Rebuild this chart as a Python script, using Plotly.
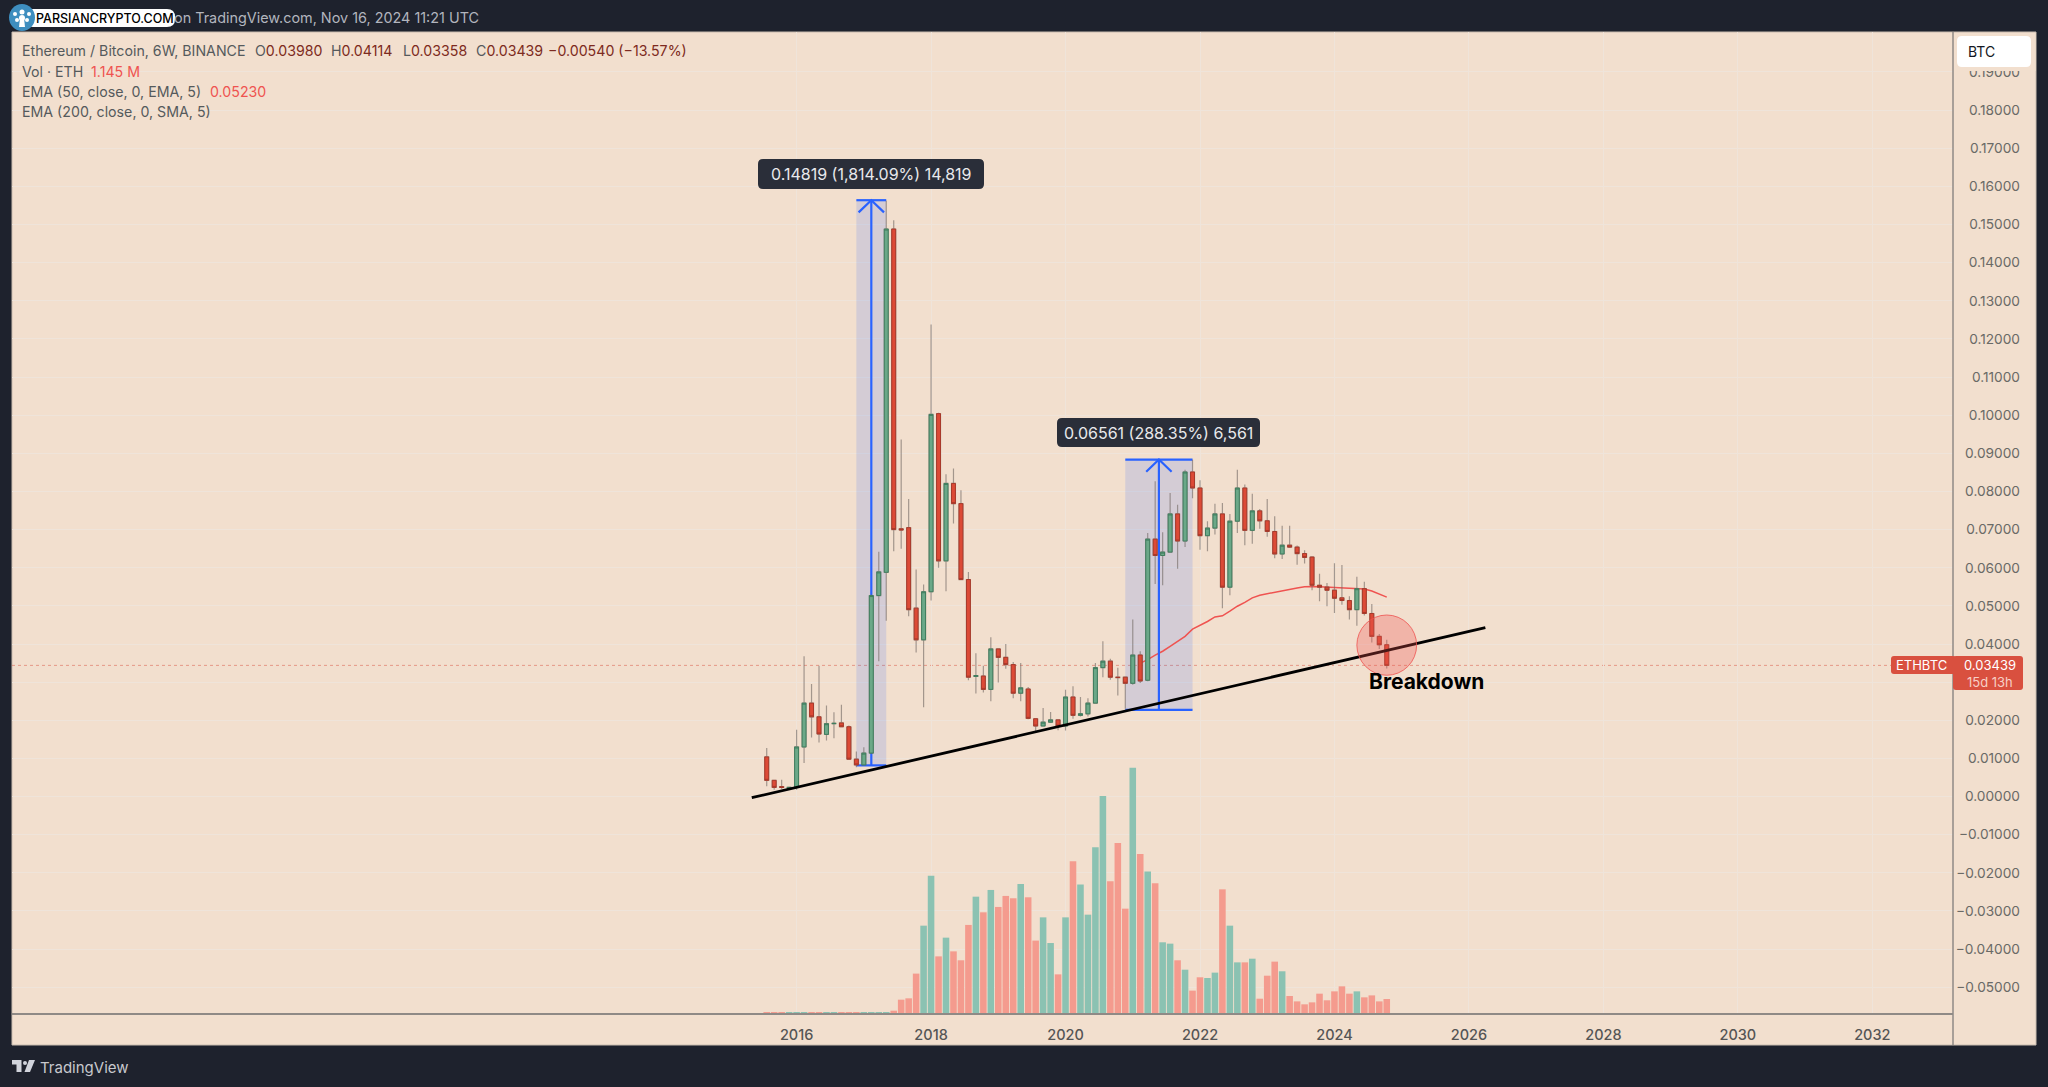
import plotly.graph_objects as go

# ETH/BTC 6W bars
bars = list(range(84))
opens = [.0104, .00425, .0026, .0022, .0024, .0130, .0245, .0209, .0163, .0191,
         .0193, .0183, .0098, .0083, .0114, .0527, .0588, .1488, .0702, .0705,
         .0494, .0411, .0537, .1004, .0618, .0821, .0768, .0569, .0315, .0316,
         .0281, .0387, .0365, .0346, .0271, .0282, .0204, .0185, .0195, .0201,
         .0185, .0261, .0213, .0217, .0245, .0338, .0355, .0313, .0313, .0297,
         .0371, .0305, .0675, .0632, .0641, .0741, .0670, .0851, .0809, .0684,
         .0704, .0741, .0549, .0722, .0809, .0698, .0749, .0723, .0695, .0636,
         .0659, .0654, .0637, .0628, .0554, .0549, .0541, .0521, .0514, .0490,
         .0545, .0480, .0420, .03980]
highs = [.0127, .0044, .0044, .0025, .0175, .0368, .0295, .0343, .0239, .0221,
         .0241, .0186, .0118, .0129, .0530, .0642, .1562, .1511, .0936, .0780,
         .0595, .0556, .1238, .1006, .0845, .0860, .0803, .0589, .0376, .0343,
         .0418, .0388, .0400, .0353, .0350, .0287, .0205, .0232, .0222, .0202,
         .0280, .0289, .0261, .0258, .0350, .0407, .0361, .0338, .0315, .0464,
         .0381, .0691, .0827, .0693, .0796, .0765, .0857, .0883, .0829, .0722,
         .0768, .0770, .0741, .0857, .0818, .0794, .0754, .0780, .0735, .0710,
         .0710, .0658, .0646, .0630, .0584, .0560, .0612, .0607, .0525, .0576,
         .0563, .0505, .0426, .04114]
lows = [.0027, .0018, .0020, .0021, .0018, .0088, .0155, .0142, .0147, .0153,
        .0182, .0097, .0077, .0082, .0112, .0355, .0461, .0643, .0650, .0473,
        .0378, .0234, .0514, .0600, .0538, .0716, .0569, .0305, .0270, .0273,
        .0250, .0299, .0335, .0258, .0250, .0203, .0167, .0184, .0193, .0174,
        .0173, .0204, .0210, .0210, .0245, .0313, .0306, .0265, .0230, .0293,
        .0298, .0302, .0557, .0554, .0639, .0597, .0654, .0782, .0647, .0643,
        .0687, .0494, .0528, .0691, .0659, .0663, .0702, .0681, .0625, .0623,
        .0652, .0608, .0611, .0541, .0512, .0499, .0481, .0503, .0464, .0448,
        .0475, .0404, .0387, .03358]
closes = [.00425, .0024, .0024, .0024, .0130, .0245, .0209, .0164, .0191, .0192,
          .0183, .0098, .0083, .0114, .0527, .0589, .1488, .0700, .0699, .0490,
          .0411, .0537, .1002, .0618, .0821, .0768, .0569, .0313, .0317, .0281,
          .0387, .0365, .0346, .0271, .0285, .0205, .0185, .0195, .0201, .0185,
          .0261, .0213, .0217, .0245, .0338, .0355, .0313, .0312, .0297, .0371,
          .0303, .0675, .0632, .0641, .0741, .0670, .0851, .0809, .0684, .0704,
          .0741, .0549, .0722, .0809, .0698, .0749, .0723, .0695, .0636, .0659,
          .0654, .0637, .0627, .0554, .0549, .0541, .0520, .0514, .0490, .0545,
          .0480, .0420, .0398, .03439]
volumes = [.06, .06, .06, .06, .06, .06, .06, .06, .06, .06,
           .06, .06, .06, .06, .06, .06, .06, .19, 1.09, 1.2,
           3.22, 7.14, 11.23, 4.63, 6.16, 5.04, 4.31, 7.2, 9.51, 8.23,
           10.06, 8.67, 9.57, 9.38, 10.55, 9.46, 5.92, 7.82, 5.72, 3.16,
           7.82, 12.4, 10.5, 8.04, 13.55, 17.75, 10.77, 13.9, 8.53, 20.04,
           13.0, 11.56, 10.6, 5.78, 5.67, 4.31, 3.54, 1.83, 2.92, 2.86,
           3.3, 10.11, 7.14, 4.14, 4.14, 4.44, 1.17, 3.05, 4.2, 3.41,
           1.39, .95, .71, .87, 1.58, 1.04, 1.77, 2.18, 1.58, 1.77,
           1.28, 1.44, .95, 1.145]

ema_bars = list(range(50, 84))
ema_values = [.0350, .0359, .0371, .0381, .0394, .0407, .0420, .0439, .0448, .0459,
              .0471, .0474, .0486, .0499, .0509, .0521, .0528, .0532, .0535, .0540,
              .0543, .0547, .0550, .0551, .0550, .0549, .0549, .0547, .0546, .0545,
              .0544, .0539, .0532, .0523]

year_bars = [4, 22, 40, 58, 76, 94, 112, 130, 148]
year_labels = ['2016', '2018', '2020', '2022', '2024', '2026', '2028', '2030', '2032']
price_ticks = [round(-0.05 + i * 0.01, 2) for i in range(25)]

trend_bars = [-2.0, 96.2]
trend_prices = [-.0003, .0443]

BG = '#f2dfce'
DARK = '#1e222d'
GRID = '#efe4da'
AXIS = '#8f8a86'
BLUE = '#2962ff'
TAG = '#d9503f'
GREY = '#555a5c'
FONT = 'Inter'

# R is the price axis line, PR the right edge of the (right aligned) price labels
L, R, PR, T, B = 12, 1953, 2020, 32, 1013


# pixel to paper coords, for the page furniture only
def px(x):
    return (x - L) / (PR - L)


def py(y):
    return (B - y) / (B - T)


def round_rect(x0, y0, x1, y1, r):
    a, b, c, d = px(x0), px(x1), py(y0), py(y1)
    rx, ry = r / (PR - L), r / (B - T)
    return (f'M{a + rx},{c} L{b - rx},{c} Q{b},{c} {b},{c - ry} L{b},{d + ry} Q{b},{d} {b - rx},{d} '
            f'L{a + rx},{d} Q{a},{d} {a},{d + ry} L{a},{c - ry} Q{a},{c} {a + rx},{c} Z')


def paper_shape(path, color):
    return dict(type='path', xref='paper', yref='paper', path=path, fillcolor=color, line_width=0, layer='above')


def poly(points):
    return 'M' + ' L'.join(f'{px(x)},{py(y)}' for x, y in points) + ' Z'


def label(x, y, text, color=GREY, size=14.2, anchor='left', weight=None):
    # annotations pad their box by 2px, take that off for left aligned text
    if anchor == 'left':
        x = x - 2
    return dict(xref='paper', yref='paper', x=px(x), y=py(y), text=text, showarrow=False,
                xanchor=anchor, yanchor='middle', align=anchor,
                font=dict(family=FONT, size=size, color=color, weight=weight))


fig = go.Figure()

# main y axis is price: EMA and the blue measure arrows go here, under the candles
fig.add_trace(go.Scatter(x=ema_bars, y=ema_values, yaxis='y', mode='lines',
                         line=dict(color='#ef5350', width=1.5), hoverinfo='skip'))

measures = [(12, 16, .00817, .15636), (48, 57, .02275, .08836)]
shapes = []
for x0, x1, low, high in measures:
    mid = (x0 + x1) / 2
    fig.add_trace(go.Scatter(x=[x0, x1, None, x0, x1, None, mid, mid, None, mid - 1.7, mid, mid + 1.7],
                             y=[low, low, None, high, high, None, low, high, None, high - .0032, high, high - .0032],
                             yaxis='y', mode='lines', line=dict(color=BLUE, width=2.2), hoverinfo='skip'))
    shapes.append(dict(type='rect', xref='x', yref='y', x0=x0, x1=x1, y0=low, y1=high,
                       fillcolor='rgba(41,98,255,0.15)', line_width=0, layer='between'))

# volume sits on its own hidden axis
up = [c >= o for o, c in zip(opens, closes)]
fig.add_trace(go.Bar(x=bars, y=volumes, yaxis='y2', marker_color=['#8bc2b2' if u else '#f49b8e' for u in up],
                     marker_line_width=0, hoverinfo='skip'))

# wicks first, then bodies on top since wicks are grey and bodies have a dark edge
wick = 'rgba(115,105,100,0.62)'
fig.add_trace(go.Candlestick(x=bars, open=opens, high=highs, low=lows, close=closes, yaxis='y3',
                             increasing=dict(line=dict(color=wick, width=1.2), fillcolor='rgba(0,0,0,0)'),
                             decreasing=dict(line=dict(color=wick, width=1.2), fillcolor='rgba(0,0,0,0)'),
                             hoverinfo='skip'))
fig.add_trace(go.Candlestick(x=bars, open=opens, close=closes, yaxis='y3',
                             high=[max(o, c) for o, c in zip(opens, closes)],
                             low=[min(o, c) for o, c in zip(opens, closes)],
                             increasing=dict(line=dict(color='#3f7d5e', width=1), fillcolor='#6ba888'),
                             decreasing=dict(line=dict(color='#a8392a', width=1), fillcolor='#dc4a36'),
                             hoverinfo='skip'))

fig.add_trace(go.Scatter(x=trend_bars, y=trend_prices, yaxis='y3', mode='lines',
                         line=dict(color='#000000', width=2.8), hoverinfo='skip'))

# frame and last price line
shapes.insert(0, dict(type='rect', xref='paper', yref='paper', x0=px(12), x1=px(2036), y0=py(32), y1=py(1045),
                      fillcolor=BG, line=dict(color='#c9bcb0', width=1), layer='below'))
shapes.append(dict(type='line', xref='paper', yref='y', x0=0, x1=px(R), y0=closes[-1], y1=closes[-1],
                   line=dict(color='rgba(217,80,63,0.5)', width=1, dash='dot'), layer='between'))
shapes.append(dict(type='circle', xref='x', yref='y', x0=79, x1=87, y0=.0318, y1=.0476,
                   fillcolor='rgba(239,83,80,0.3)', line=dict(color='rgba(239,83,80,0.8)', width=1), layer='above'))
# price axis line, its labels hang off a free axis further right
shapes.append(dict(type='line', xref='paper', yref='paper', x0=px(R), x1=px(R), y0=py(32), y1=py(1045),
                   line=dict(color=AXIS, width=1.5), layer='above'))

# measure labels
shapes.append(paper_shape(round_rect(758, 159, 984, 189, 5), '#2a2e39'))
shapes.append(paper_shape(round_rect(1057, 418, 1260, 447, 5), '#2a2e39'))

# price tags, the scale button hides the top half of 0.19000
shapes.append(paper_shape(poly([(1954.5, 33), (2035.5, 33), (2035.5, 71), (1954.5, 71)]), BG))
shapes.append(paper_shape(round_rect(1957, 36, 2031, 67, 5), '#ffffff'))
shapes.append(paper_shape(round_rect(1891, 656, 1956, 674, 3), TAG))
shapes.append(paper_shape(round_rect(1953, 656, 2023, 690, 3), TAG))

# logo pill top left
shapes.append(paper_shape(round_rect(25, 9, 175, 27, 8), '#ffffff'))
shapes.append(dict(type='circle', xref='paper', yref='paper', x0=px(9), x1=px(35), y0=py(31), y1=py(4),
                   fillcolor='#3e8ebf', line_width=0, layer='above'))
for cx, cy, r in [(22, 12, 2.5), (15, 14, 2), (29, 14, 2), (17, 20, 2), (27, 20, 2), (22, 18, 3)]:
    shapes.append(dict(type='circle', xref='paper', yref='paper', x0=px(cx - r), x1=px(cx + r),
                       y0=py(cy + r), y1=py(cy - r), fillcolor='#ffffff', line_width=0, layer='above'))
shapes.append(paper_shape(poly([(20, 18), (24, 18), (25, 27), (19, 27)]), '#ffffff'))

# TradingView mark in the footer
shapes.append(paper_shape(poly([(12, 1060), (21.5, 1060), (21.5, 1072), (16.5, 1072), (16.5, 1064.5), (12, 1064.5)]), '#d1d4dc'))
shapes.append(dict(type='circle', xref='paper', yref='paper', x0=px(23), x1=px(27), y0=py(1065), y1=py(1061),
                   fillcolor='#d1d4dc', line_width=0, layer='above'))
shapes.append(paper_shape(poly([(29, 1060), (35, 1060), (30, 1072), (24.5, 1072)]), '#d1d4dc'))

red_dark = '#7d2a20'
annotations = [
    label(174, 18, 'on TradingView.com, Nov 16, 2024 11:21 UTC', '#b2b5be', 14.4),
    label(36, 18, 'PARSIANCRYPTO.COM', '#000000', 12.5, weight=500),
    label(22, 50.5, 'Ethereum / Bitcoin, 6W, BINANCE'),
    label(255, 50.5, f'O<span style="color:{red_dark}">0.03980</span>'),
    label(331, 50.5, f'H<span style="color:{red_dark}">0.04114</span>'),
    label(403, 50.5, f'L<span style="color:{red_dark}">0.03358</span>'),
    label(476, 50.5, f'C<span style="color:{red_dark}">0.03439</span>'),
    label(548, 50.5, '−0.00540 (−13.57%)', red_dark),
    label(22, 71, 'Vol · ETH'),
    label(91, 71, '1.145 M', '#ef5350'),
    label(22, 91, 'EMA (50, close, 0, EMA, 5)'),
    label(210, 91, '0.05230', '#ef5350'),
    label(22, 111.5, 'EMA (200, close, 0, SMA, 5)'),
    label(871, 174, '0.14819 (1,814.09%) 14,819', '#e8e9ec', 16, 'center'),
    label(1158.5, 432.5, '0.06561 (288.35%) 6,561', '#e8e9ec', 16, 'center'),
    label(1426.5, 681.5, '<b>Breakdown</b>', '#000000', 21, 'center'),
    label(1968, 51, 'BTC', '#131722', 14),
    label(1921.5, 665, 'ETHBTC', '#ffffff', 13, 'center'),
    label(1990, 665, '0.03439', '#ffffff', 13, 'center'),
    label(1990, 682, '15d 13h', '#f7cfc6', 13, 'center'),
    label(40, 1067, 'TradingView', '#c8c9cd', 15),
]

# the 0.03000 label is covered by the price tag
price_labels = ['' if t == 0.03 else f'{t:.5f}'.replace('-', '−') for t in price_ticks]
tick_font = dict(family=FONT, size=13.7, color='#6a6a66')
price_range = [-.05675, .20046]

fig.update_layout(
    width=2048,
    height=1087,
    margin=dict(l=L, r=2048 - PR, t=T, b=1087 - B),
    paper_bgcolor=DARK,
    plot_bgcolor=BG,
    showlegend=False,
    bargap=0.12,
    boxgap=0.25,
    hovermode=False,
    shapes=shapes,
    annotations=annotations,
    xaxis=dict(domain=[0, px(R)], range=[-101.03, 158.8], tickvals=year_bars, ticktext=year_labels, showgrid=True,
               gridcolor=GRID, gridwidth=1, zeroline=False, showline=True, linecolor=AXIS, linewidth=1.5,
               ticks='', ticklabelstandoff=8, rangeslider=dict(visible=False),
               tickfont=dict(family=FONT, size=14.5, color='#555555', weight=500)),
    # left side labels are right aligned, which is how the reference sets the minus signs
    yaxis=dict(range=price_range, side='left', anchor='free', position=1, tickvals=price_ticks,
               ticktext=price_labels, showgrid=True, gridcolor=GRID, gridwidth=1, zeroline=False,
               showline=False, ticks='', tickfont=tick_font),
    yaxis2=dict(range=[0, 80.2], overlaying='y', anchor='x', visible=False, fixedrange=True),
    yaxis3=dict(range=price_range, overlaying='y', anchor='x', visible=False),
)

fig.write_html("out.html", config=dict(displayModeBar=False), post_script="document.body.style.margin='0';")
